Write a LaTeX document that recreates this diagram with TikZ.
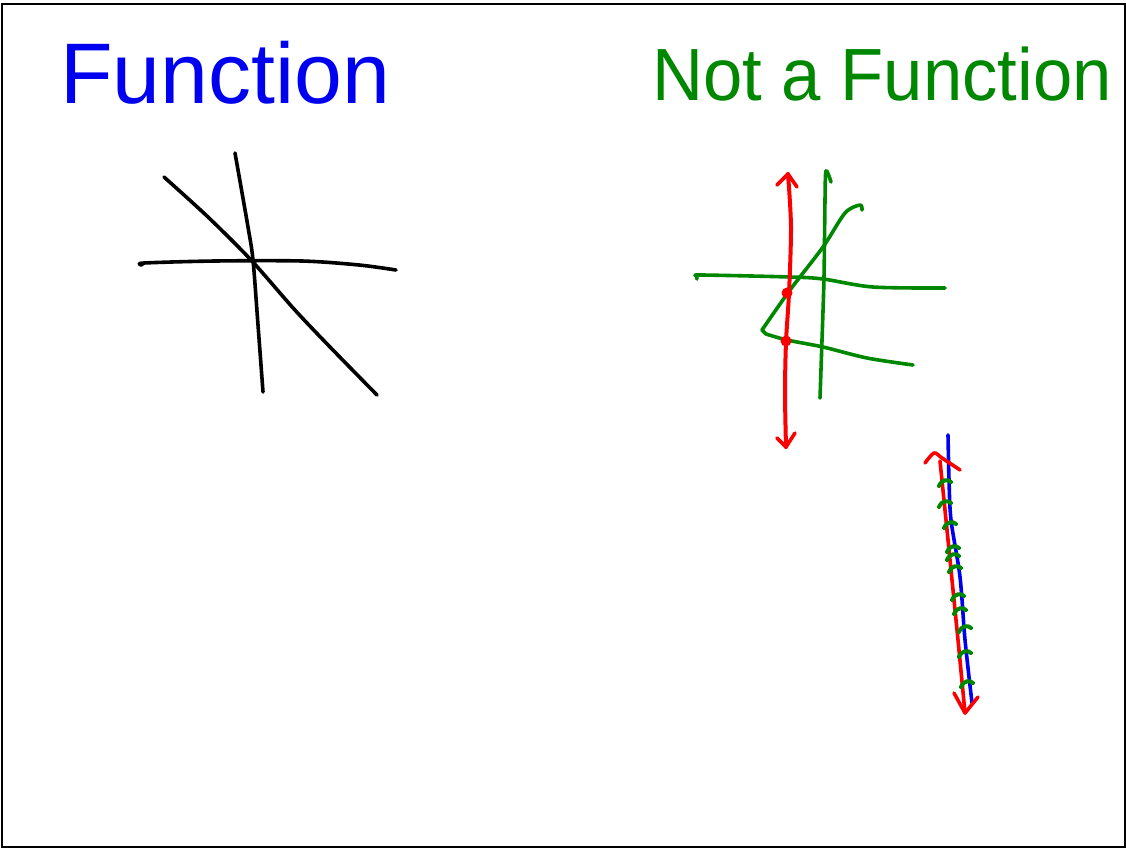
\documentclass[tikz,border=0pt]{standalone}
\usepackage{fontspec}
\setmainfont{Liberation Sans}
\definecolor{inkblue}{RGB}{0,0,240}
\definecolor{inkgreen}{RGB}{0,135,0}
\definecolor{inkred}{RGB}{250,0,0}
\tikzset{
  ink/.style={line width=3.6pt, line cap=round, line join=round},
  title/.style={inner sep=0pt, anchor=base west},
}
\begin{document}
\begin{tikzpicture}[x=1pt,y=-1pt]
\useasboundingbox (0,0) rectangle (1126,849);
\fill[white] (0,0) rectangle (1126,849);
\draw[line width=2pt] (2,4) rectangle (1125,847);
% titles
\node[title, text=inkblue, font=\fontsize{86}{86}\selectfont] (tfun) at (60,103) {Function};
\node[title, text=inkgreen, font=\fontsize{74}{74}\selectfont, xscale=0.955] (tnot) at (652,100) {Not a Function};
% black sketch
\draw[ink] plot[smooth] coordinates {(164,177) (208,217) (251,260) (294,309) (330,347) (377,395)};
\draw[ink] plot[smooth] coordinates {(235,153) (248,227) (253,260) (258,325) (263,392)};
\draw[ink] plot[smooth] coordinates {(142,265) (144,263) (215,261) (302,261) (359,265) (396,270)};
% green graph
\draw[ink, inkgreen] plot[smooth] coordinates {(697,279) (697,276) (702,275) (790,277) (823,279) (873,287) (945,288)};
\draw[ink, inkgreen] plot[smooth] coordinates {(831,182) (826,171) (825,200) (824,277) (822,340) (820,398)};
\draw[ink, inkgreen] plot[smooth] coordinates {(862,210) (860,205) (845,213) (823,247) (790,290) (762,330)};
\draw[ink, inkgreen] (762,330) -- (766,334);
\draw[ink, inkgreen] plot[smooth] coordinates {(766,334) (787,340) (823,347) (867,358) (913,365)};
% red vertical line
\draw[ink, inkred, line width=4pt] plot[smooth] coordinates {(788,174) (791,227) (789,293) (786,342) (785,393) (786,447)};
\draw[ink, inkred] (777,185) -- (788,174) -- (797,187);
\draw[ink, inkred] (777,438) -- (786,447) -- (795,433);
\fill[inkred] (787,293) circle (5.5);
\fill[inkred] (786,341) circle (5.5);
% bottom right
\draw[ink, inkblue] plot[smooth] coordinates {(948,435) (949,480) (951,520) (960,577) (965,640) (972,703)};
\draw[ink, inkred] plot[smooth] coordinates {(940,461) (946,520) (952,580) (958,640) (965,713)};
\draw[ink, inkred] plot[smooth] coordinates {(925,463) (934,453) (942,458) (960,470)};
\draw[ink, inkred] (954,693) -- (965,713) -- (978,697);
\foreach \px/\py in {945/482, 945/503, 950/524, 953/548, 953/556, 955/568, 958/596, 960/610, 965/628, 965/653, 967/683}{
  \draw[ink, inkgreen, line width=4pt] (\px-6,\py+4) .. controls (\px-3,\py-3) and (\px+3,\py-3) .. (\px+6,\py);
}
\end{tikzpicture}
\end{document}
